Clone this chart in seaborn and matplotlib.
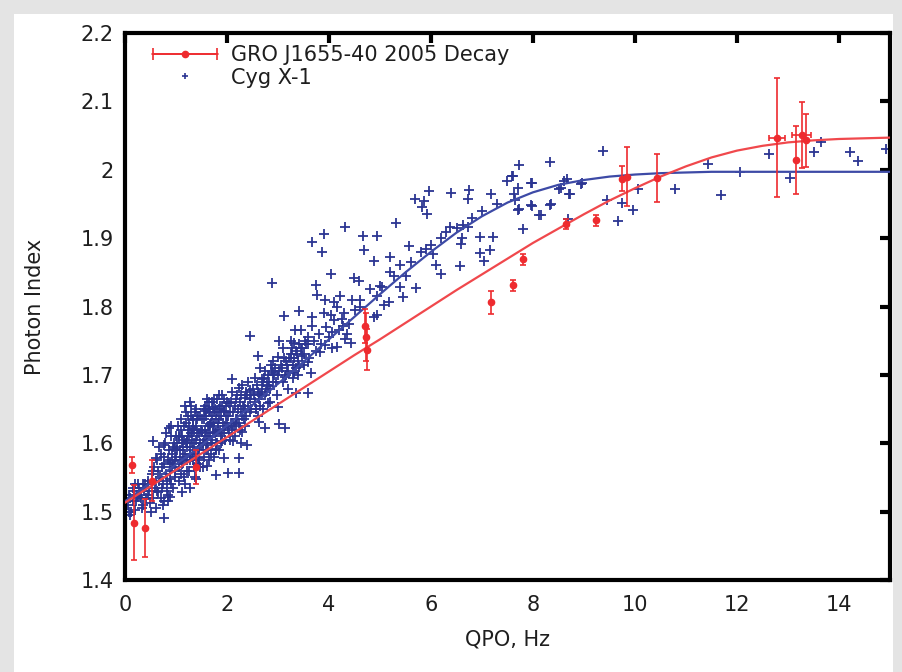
import numpy as np
import pandas as pd
import matplotlib
matplotlib.use("Agg")
import matplotlib.pyplot as plt
import seaborn as sns
from matplotlib.patches import Rectangle
from matplotlib.legend_handler import HandlerErrorbar
from matplotlib.container import ErrorbarContainer

# ---------------- data ----------------
# GRO J1655-40 2005 decay points
gro_x = [0.14, 0.18, 0.39, 0.52, 1.40, 4.70, 4.72, 4.74, 7.18, 7.60, 7.80, 8.64, 9.24,
         9.74, 9.85, 10.43, 12.78, 13.16, 13.27, 13.35]
gro_y = [1.568, 1.484, 1.476, 1.545, 1.565, 1.771, 1.756, 1.737, 1.806, 1.831, 1.869, 1.921, 1.926,
         1.987, 1.990, 1.988, 2.047, 2.014, 2.051, 2.043]
gro_yerr = [0.012, 0.055, 0.043, 0.030, 0.025, 0.025, 0.035, 0.030, 0.017, 0.008, 0.008, 0.007, 0.008,
            0.018, 0.043, 0.035, 0.087, 0.050, 0.048, 0.039]
gro_xerr_x = [12.78, 13.27]
gro_xerr_y = [2.047, 2.051]
gro_xerr = [0.16, 0.19]

# Cyg X-1 points: sparse outer points
cyg_x_outer = [
    9.38, 8.33, 7.73, 7.58, 7.49, 7.71, 7.99, 8.61, 8.95, 8.50, 8.70, 8.33, 7.98, 8.11, 7.71, 7.65,
    7.18, 6.75, 6.73, 6.39, 5.96, 5.69, 5.87, 5.83, 5.92, 5.32, 4.32, 4.67, 4.95, 3.91, 3.67, 3.87,
    4.68, 4.89, 5.19, 5.56, 5.91, 6.04, 6.30, 6.37, 6.62, 6.73, 6.96, 7.21, 7.15, 6.96, 7.04, 6.58,
    6.57, 6.19, 5.71, 5.45, 5.39, 5.28, 5.04, 5.08, 5.17, 4.95, 4.61, 4.89, 4.95, 4.49, 4.58, 4.04,
    3.74, 4.21, 3.93, 3.76, 4.10, 3.67, 3.42, 4.04, 4.25, 2.88, 3.12, 3.34, 3.66, 3.59, 3.31, 3.02,
    4.06, 4.27, 4.32, 4.43, 4.15, 3.93, 3.82, 2.46, 2.60, 3.00, 3.25, 3.48, 3.59, 3.42, 3.65, 3.31,
    3.14, 2.91, 3.59, 3.36, 2.80, 2.69, 2.63, 2.80, 3.00, 2.46, 2.35, 2.24, 2.09, 2.33, 2.57, 2.03,
    1.95, 2.63, 2.74, 3.02, 3.14, 2.40, 2.24, 2.24, 2.01, 1.78, 1.61, 1.45, 1.39, 1.22, 0.88, 0.77,
    0.77, 0.49, 0.20, 0.07, 0.15, 0.37, 0.45, 0.26, 0.65, 0.88, 1.11, 0.60, 0.54, 0.86, 0.77, 0.99,
    1.05, 1.33, 1.56, 1.73, 1.33, 1.22, 1.50, 1.67, 1.78, 1.90, 1.61, 1.45, 1.78, 2.01, 2.18, 2.12,
    1.95, 2.29, 0.88, 1.11, 0.99, 1.28, 0.54,
    9.74, 9.46, 9.67, 9.97, 10.05, 10.78, 11.44, 11.69, 12.06, 12.62, 13.03, 13.50, 13.65, 14.21,
    14.37, 14.92, 7.60, 7.97, 8.54, 8.66, 8.72, 8.96, 7.73, 7.96, 8.15, 8.35, 8.69, 7.80, 7.62,
]
cyg_y_outer = [
    2.027, 2.011, 2.007, 1.991, 1.984, 1.974, 1.981, 1.984, 1.979, 1.972, 1.964, 1.948, 1.947, 1.934, 1.941, 1.956,
    1.964, 1.970, 1.957, 1.966, 1.969, 1.957, 1.954, 1.945, 1.936, 1.922, 1.916, 1.903, 1.903, 1.906, 1.895, 1.879,
    1.883, 1.867, 1.873, 1.889, 1.884, 1.877, 1.909, 1.916, 1.919, 1.916, 1.901, 1.901, 1.883, 1.878, 1.867, 1.891,
    1.859, 1.847, 1.827, 1.814, 1.828, 1.844, 1.829, 1.802, 1.806, 1.816, 1.800, 1.784, 1.787, 1.841, 1.838, 1.847,
    1.831, 1.816, 1.809, 1.817, 1.806, 1.784, 1.794, 1.787, 1.781, 1.834, 1.786, 1.766, 1.771, 1.756, 1.747, 1.750,
    1.763, 1.772, 1.753, 1.747, 1.741, 1.744, 1.734, 1.757, 1.727, 1.726, 1.725, 1.728, 1.719, 1.712, 1.703, 1.703,
    1.697, 1.703, 1.673, 1.673, 1.684, 1.694, 1.672, 1.659, 1.653, 1.678, 1.666, 1.681, 1.694, 1.655, 1.650, 1.659,
    1.647, 1.631, 1.622, 1.628, 1.622, 1.597, 1.578, 1.556, 1.556, 1.553, 1.566, 1.578, 1.547, 1.559, 1.547, 1.516,
    1.491, 1.512, 1.503, 1.500, 1.534, 1.534, 1.541, 1.522, 1.528, 1.522, 1.528, 1.578, 1.603, 1.622, 1.597, 1.591,
    1.609, 1.634, 1.647, 1.653, 1.622, 1.603, 1.616, 1.628, 1.616, 1.603, 1.597, 1.591, 1.591, 1.622, 1.628, 1.603,
    1.578, 1.616, 1.572, 1.572, 1.559, 1.584, 1.559,
    1.951, 1.956, 1.925, 1.941, 1.972, 1.972, 2.008, 1.963, 1.996, 2.023, 1.988, 2.026, 2.040, 2.026,
    2.013, 2.030, 1.991, 1.980, 1.973, 1.986, 1.964, 1.980, 1.942, 1.949, 1.934, 1.950, 1.928, 1.914, 1.964,
]

# Cyg X-1 points: dense band at low QPO frequency
cyg_x_band = [
    0.05, 0.10, 0.12, 0.18, 0.22, 0.25, 0.30, 0.33, 0.38, 0.42, 0.45, 0.48, 0.10, 0.28, 0.35, 0.50,
    0.55, 0.60, 0.62, 0.68, 0.70, 0.72, 0.75, 0.80, 0.82, 0.85, 0.88, 0.90, 0.93, 0.95, 0.98, 0.60,
    0.70, 0.78, 0.90, 0.95, 0.85, 0.65,
    1.00, 1.02, 1.05, 1.08, 1.10, 1.12, 1.15, 1.18, 1.20, 1.22, 1.25, 1.28, 1.30, 1.32, 1.35, 1.38,
    1.40, 1.42, 1.45, 1.48, 1.05, 1.15, 1.25, 1.35, 1.45, 1.10, 1.20, 1.30, 1.40, 1.00, 1.18, 1.28,
    1.38, 1.48, 1.12, 1.33, 1.43, 1.23,
    1.50, 1.52, 1.55, 1.58, 1.60, 1.62, 1.65, 1.68, 1.70, 1.72, 1.75, 1.78, 1.80, 1.82, 1.85, 1.88,
    1.90, 1.92, 1.95, 1.98, 1.55, 1.65, 1.75, 1.85, 1.60, 1.70, 1.80, 1.90, 1.53, 1.57, 1.67, 1.77,
    1.87, 1.63,
    2.00, 2.05, 2.10, 2.15, 2.20, 2.25, 2.30, 2.35, 2.40, 2.45, 2.05, 2.15, 2.25, 2.35, 2.10, 2.20,
    2.30, 2.45, 2.50, 2.00, 2.28, 2.42,
    2.55, 2.60, 2.65, 2.70, 2.75, 2.80, 2.85, 2.90, 2.95, 2.60, 2.70, 2.85, 2.55, 2.75, 2.90, 3.00,
    2.65, 2.98,
    3.05, 3.10, 3.15, 3.20, 3.25, 3.30, 3.35, 3.40, 3.45, 3.50, 3.55, 3.60, 3.20, 3.30, 3.40, 3.45,
    3.50, 3.10, 3.25,
    3.70, 3.80, 3.85, 3.95, 4.00, 4.10, 4.20, 4.30, 4.40, 4.50, 3.75, 4.05, 4.35, 3.90, 4.15, 4.45,
    4.60, 4.80, 5.00, 5.20, 5.40, 5.60, 5.80, 6.00, 6.20, 6.50, 6.80, 7.00, 7.30, 5.50, 6.10, 6.60,
    0.52, 0.58, 0.63, 0.67, 0.73, 0.77, 0.83, 0.87, 0.92, 0.97, 0.57, 0.66, 0.76, 0.81, 0.91, 0.99,
    0.74, 0.84, 0.94,
    1.03, 1.07, 1.09, 1.13, 1.16, 1.19, 1.21, 1.24, 1.27, 1.29, 1.31, 1.34, 1.36, 1.39, 1.41, 1.44,
    1.46, 1.49, 1.06, 1.14, 1.26, 1.37, 1.47, 1.17, 1.27, 1.02, 1.11, 1.32, 1.42, 1.22, 1.34,
    1.51, 1.54, 1.56, 1.59, 1.61, 1.64, 1.66, 1.69, 1.71, 1.74, 1.76, 1.79, 1.81, 1.84, 1.86, 1.89,
    1.91, 1.94, 1.97, 1.99, 1.58, 1.68, 1.78, 1.88, 1.96, 1.54, 1.64, 1.74, 1.84, 1.94, 1.62, 1.72,
    1.82,
    2.02, 2.07, 2.12, 2.17, 2.22, 2.27, 2.32, 2.37, 2.42, 2.47, 2.08, 2.18, 2.28, 2.38, 2.13, 2.23,
    2.33, 2.03, 2.48,
    2.52, 2.58, 2.62, 2.68, 2.72, 2.78, 2.82, 2.88, 2.92, 2.97, 2.57, 2.67, 2.77, 2.87,
    3.02, 3.08, 3.12, 3.18, 3.22, 3.28, 3.32, 3.38, 3.42, 3.48, 3.52, 3.58, 3.15, 3.35,
    0.08, 0.16, 0.24, 0.32, 0.40, 0.46, 0.20, 0.36,
]
cyg_y_band = [
    1.510, 1.520, 1.500, 1.530, 1.515, 1.540, 1.525, 1.505, 1.530, 1.520, 1.545, 1.530, 1.495, 1.535, 1.540, 1.500,
    1.520, 1.545, 1.530, 1.550, 1.520, 1.565, 1.540, 1.555, 1.530, 1.575, 1.560, 1.540, 1.585, 1.570, 1.550, 1.505,
    1.585, 1.600, 1.610, 1.595, 1.515, 1.560,
    1.580, 1.600, 1.565, 1.590, 1.620, 1.570, 1.605, 1.585, 1.630, 1.595, 1.610, 1.575, 1.640, 1.600, 1.620, 1.585,
    1.605, 1.635, 1.615, 1.600, 1.545, 1.550, 1.560, 1.565, 1.575, 1.635, 1.645, 1.655, 1.650, 1.610, 1.540, 1.535,
    1.550, 1.640, 1.610, 1.590, 1.590, 1.620,
    1.620, 1.600, 1.635, 1.610, 1.650, 1.590, 1.625, 1.605, 1.640, 1.615, 1.630, 1.600, 1.645, 1.620, 1.635, 1.610,
    1.655, 1.630, 1.620, 1.640, 1.580, 1.575, 1.580, 1.590, 1.665, 1.660, 1.665, 1.670, 1.565, 1.655, 1.645, 1.650,
    1.655, 1.610,
    1.630, 1.645, 1.620, 1.655, 1.635, 1.660, 1.640, 1.650, 1.670, 1.645, 1.605, 1.610, 1.620, 1.625, 1.675, 1.670,
    1.685, 1.665, 1.680, 1.660, 1.600, 1.690,
    1.660, 1.675, 1.655, 1.690, 1.670, 1.700, 1.680, 1.690, 1.710, 1.640, 1.650, 1.660, 1.695, 1.705, 1.720, 1.700,
    1.710, 1.670,
    1.715, 1.690, 1.720, 1.705, 1.730, 1.715, 1.735, 1.720, 1.740, 1.730, 1.745, 1.725, 1.680, 1.695, 1.700, 1.765,
    1.715, 1.740, 1.750,
    1.750, 1.760, 1.745, 1.770, 1.755, 1.780, 1.765, 1.790, 1.775, 1.795, 1.735, 1.740, 1.760, 1.790, 1.800, 1.810,
    1.810, 1.825, 1.830, 1.850, 1.860, 1.865, 1.880, 1.890, 1.900, 1.915, 1.930, 1.940, 1.950, 1.845, 1.860, 1.900,
    1.555, 1.535, 1.575, 1.545, 1.535, 1.570, 1.545, 1.590, 1.565, 1.600, 1.565, 1.595, 1.580, 1.615, 1.625, 1.575,
    1.510, 1.525, 1.535,
    1.625, 1.575, 1.555, 1.595, 1.625, 1.600, 1.575, 1.640, 1.595, 1.615, 1.580, 1.635, 1.600, 1.625, 1.570, 1.640,
    1.595, 1.620, 1.610, 1.580, 1.625, 1.645, 1.565, 1.655, 1.660, 1.590, 1.600, 1.615, 1.610, 1.605, 1.575,
    1.635, 1.605, 1.620, 1.640, 1.600, 1.645, 1.615, 1.630, 1.600, 1.645, 1.615, 1.635, 1.600, 1.650, 1.620, 1.640,
    1.615, 1.645, 1.625, 1.655, 1.590, 1.585, 1.590, 1.600, 1.605, 1.650, 1.660, 1.665, 1.670, 1.665, 1.625, 1.625,
    1.630,
    1.640, 1.630, 1.645, 1.635, 1.650, 1.645, 1.655, 1.640, 1.655, 1.670, 1.660, 1.665, 1.670, 1.675, 1.625, 1.630,
    1.635, 1.615, 1.650,
    1.670, 1.685, 1.665, 1.680, 1.695, 1.685, 1.690, 1.705, 1.700, 1.690, 1.650, 1.670, 1.675, 1.715,
    1.705, 1.710, 1.725, 1.715, 1.725, 1.740, 1.725, 1.730, 1.745, 1.740, 1.750, 1.745, 1.700, 1.710,
    1.525, 1.515, 1.525, 1.520, 1.540, 1.525, 1.540, 1.510,
]

# fitted model curves
fit_x = [0.0, 0.5, 1.0, 1.5, 2.0, 2.5, 3.0, 3.5, 4.0, 4.5, 5.0, 5.5, 6.0, 6.5, 7.0, 7.5,
         8.0, 8.5, 9.0, 9.5, 10.0, 10.5, 11.0, 11.5, 12.0, 12.5, 13.0, 13.5, 14.0, 14.5, 15.0]
fit_red = [1.513, 1.537, 1.561, 1.585, 1.609, 1.633, 1.657, 1.681, 1.705, 1.729, 1.752, 1.776,
           1.800, 1.824, 1.847, 1.870, 1.893, 1.914, 1.935, 1.955, 1.973, 1.990, 2.005, 2.018,
           2.028, 2.035, 2.040, 2.043, 2.045, 2.046, 2.047]
fit_blue = [1.515, 1.542, 1.569, 1.597, 1.626, 1.656, 1.687, 1.719, 1.752, 1.785, 1.818, 1.850,
            1.880, 1.908, 1.932, 1.952, 1.967, 1.978, 1.985, 1.990, 1.993, 1.995, 1.996, 1.997,
            1.997, 1.997, 1.997, 1.997, 1.997, 1.997, 1.997]

x_ticks = [0, 2, 4, 6, 8, 10, 12, 14]
y_ticks = [1.4, 1.5, 1.6, 1.7, 1.8, 1.9, 2.0, 2.1, 2.2]
y_tick_labels = ["1.4", "1.5", "1.6", "1.7", "1.8", "1.9", "2", "2.1", "2.2"]

# ---------------- plot ----------------
sns.set_theme(style="white")
plt.rcParams["font.family"] = ["DejaVu Sans"]

RED = "#ee2b2f"
REDLINE = "#f0484c"
BLUE = "#2b3592"
BLUELINE = "#3d4aa6"
TXT = "#1e1e1e"

fig = plt.figure(figsize=(9.02, 6.72), dpi=100, facecolor="#e4e4e4")
bg = Rectangle((14 / 902, 0), (893 - 14) / 902, 1 - 14 / 672,
               transform=fig.transFigure, facecolor="white", edgecolor="none", zorder=-10)
fig.add_artist(bg)
ax = fig.add_axes([125 / 902, 1 - 580 / 672, (890 - 125) / 902, (580 - 33) / 672])
ax.set_zorder(5)
ax.set_facecolor("white")

cyg = pd.DataFrame({"x": cyg_x_outer + cyg_x_band, "y": cyg_y_outer + cyg_y_band})
sns.scatterplot(data=cyg, x="x", y="y", ax=ax, marker="+", s=60, color=BLUE,
                linewidth=1.3, legend=False, zorder=2)

fits = pd.DataFrame({"x": fit_x, "red": fit_red, "blue": fit_blue})
sns.lineplot(data=fits, x="x", y="blue", ax=ax, color=BLUELINE, lw=1.6, zorder=3)
sns.lineplot(data=fits, x="x", y="red", ax=ax, color=REDLINE, lw=1.6, zorder=3)

ax.errorbar(gro_x, gro_y, yerr=gro_yerr, fmt="o", ms=4.5, color=RED, ecolor=RED,
            elinewidth=1.2, capsize=2.5, capthick=1.2, zorder=4)
ax.errorbar(gro_xerr_x, gro_xerr_y, xerr=gro_xerr, fmt="none", ecolor=RED,
            elinewidth=1.2, capsize=2.5, capthick=1.2, zorder=4)

# legend proxies
h_red = ax.errorbar([np.nan], [np.nan], xerr=[1.0], fmt="o-", ms=4.5, color=RED,
                    ecolor=RED, lw=1.2, elinewidth=1.2, capsize=4, capthick=1.2)
h_blue, = ax.plot([np.nan], [np.nan], "+", color=BLUE, ms=5, mew=1.2, ls="none")
leg = ax.legend([h_red, h_blue], ["GRO J1655-40 2005 Decay", "Cyg X-1"],
                loc="upper left", frameon=False, fontsize=15, handlelength=3.2,
                handletextpad=0.6, labelspacing=0.12, borderaxespad=0, borderpad=0,
                bbox_to_anchor=(0.035, 0.978),
                handler_map={ErrorbarContainer: HandlerErrorbar(xerr_size=1.55)})
for t in leg.get_texts():
    t.set_color(TXT)

ax.set_xlim(0, 15)
ax.set_ylim(1.4, 2.2)
ax.set_xticks(x_ticks)
ax.set_yticks(y_ticks)
ax.set_yticklabels(y_tick_labels)
ax.tick_params(direction="in", length=7, width=3, top=True, right=True,
               labelsize=15, colors="black")
ax.tick_params(axis="x", labelcolor=TXT, pad=11)
ax.tick_params(axis="y", labelcolor=TXT, pad=8)
for sp in ax.spines.values():
    sp.set_linewidth(3)
    sp.set_color("black")
    sp.set_visible(True)

ax.set_xlabel("QPO, Hz", fontsize=15, color=TXT, labelpad=10)
ax.set_ylabel("Photon Index", fontsize=15, color=TXT, labelpad=26)

fig.savefig("out.png", dpi=100, facecolor=fig.get_facecolor())
